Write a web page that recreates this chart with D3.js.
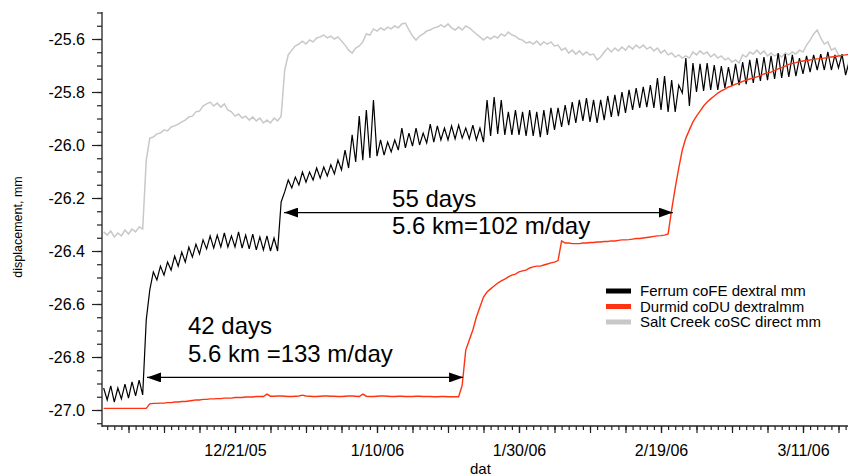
<!DOCTYPE html>
<html>
<head>
<meta charset="utf-8">
<script src="https://cdn.jsdelivr.net/npm/d3@7"></script>
<style>
  body { margin: 0; background: #fff; }
  text { font-family: "Liberation Sans", Arial, Helvetica, sans-serif; fill: #000; }
</style>
</head>
<body>
<div id="chart"></div>
<script>
// samples every 12 hours, starting at noon on 2 Dec 2005
const t0 = new Date(2005, 11, 2, 12);
const stepHours = 12;

const ferrum = [
  -26.917,-26.962,-26.909,-26.970,-26.917,-26.958,-26.902,-26.955,-26.894,-26.947,
  -26.887,-26.943,-26.660,-26.547,-26.479,-26.509,-26.457,-26.491,-26.442,-26.472,
  -26.419,-26.457,-26.404,-26.442,-26.385,-26.423,-26.374,-26.411,-26.358,-26.392,
  -26.343,-26.389,-26.340,-26.385,-26.332,-26.385,-26.343,-26.385,-26.328,-26.389,
  -26.340,-26.392,-26.336,-26.396,-26.347,-26.396,-26.343,-26.400,-26.351,-26.400,
  -26.215,-26.177,-26.132,-26.162,-26.121,-26.151,-26.102,-26.140,-26.102,-26.132,
  -26.087,-26.125,-26.083,-26.117,-26.075,-26.109,-26.057,-26.094,-26.019,-26.087,
  -25.962,-26.064,-25.891,-26.057,-25.868,-26.049,-25.830,-26.042,-25.981,-26.038,
  -25.989,-26.026,-25.981,-26.019,-25.936,-26.011,-25.955,-26.004,-25.936,-26.000,
  -25.955,-25.992,-25.921,-25.989,-25.928,-25.981,-25.936,-25.981,-25.928,-25.977,
  -25.925,-25.974,-25.936,-25.977,-25.925,-25.981,-25.936,-25.989,-25.830,-25.966,
  -25.819,-25.958,-25.830,-25.962,-25.875,-25.962,-25.868,-25.962,-25.875,-25.966,
  -25.868,-25.966,-25.875,-25.970,-25.868,-25.962,-25.860,-25.943,-25.860,-25.932,
  -25.849,-25.925,-25.838,-25.917,-25.830,-25.909,-25.823,-25.913,-25.830,-25.917,
  -25.830,-25.906,-25.815,-25.894,-25.811,-25.891,-25.800,-25.879,-25.792,-25.868,
  -25.785,-25.860,-25.781,-25.857,-25.774,-25.860,-25.747,-25.868,-25.740,-25.875,
  -25.755,-25.875,-25.774,-25.804,-25.672,-25.853,-25.691,-25.800,-25.694,-25.796,
  -25.691,-25.792,-25.698,-25.792,-25.702,-25.785,-25.706,-25.777,-25.694,-25.774,
  -25.687,-25.770,-25.679,-25.766,-25.672,-25.758,-25.668,-25.755,-25.664,-25.751,
  -25.653,-25.747,-25.657,-25.743,-25.660,-25.740,-25.672,-25.732,-25.664,-25.725,
  -25.660,-25.717,-25.657,-25.717,-25.649,-25.717,-25.660,-25.709,-25.657,-25.736,-25.687
];

const durmid = [
  -26.994,-26.994,-26.994,-26.994,-26.994,-26.994,-26.994,-26.994,-26.994,-26.994,
  -26.994,-26.994,-26.994,-26.977,-26.975,-26.975,-26.974,-26.974,-26.972,-26.972,
  -26.970,-26.970,-26.968,-26.968,-26.966,-26.964,-26.962,-26.962,-26.960,-26.960,
  -26.958,-26.958,-26.957,-26.957,-26.955,-26.955,-26.955,-26.953,-26.953,-26.953,
  -26.951,-26.951,-26.951,-26.949,-26.949,-26.949,-26.940,-26.948,-26.948,-26.947,
  -26.947,-26.948,-26.949,-26.949,-26.948,-26.947,-26.944,-26.947,-26.948,-26.949,
  -26.949,-26.948,-26.947,-26.947,-26.948,-26.948,-26.949,-26.949,-26.948,-26.947,
  -26.947,-26.948,-26.949,-26.940,-26.948,-26.949,-26.949,-26.948,-26.947,-26.947,
  -26.948,-26.949,-26.949,-26.948,-26.948,-26.949,-26.949,-26.949,-26.948,-26.948,
  -26.949,-26.949,-26.949,-26.950,-26.950,-26.949,-26.949,-26.950,-26.950,-26.950,
  -26.950,-26.906,-26.774,-26.736,-26.698,-26.649,-26.611,-26.574,-26.555,-26.543,
  -26.532,-26.521,-26.513,-26.506,-26.498,-26.491,-26.487,-26.479,-26.475,-26.472,
  -26.464,-26.460,-26.457,-26.457,-26.453,-26.449,-26.445,-26.442,-26.436,-26.362,
  -26.370,-26.370,-26.372,-26.372,-26.372,-26.370,-26.370,-26.368,-26.368,-26.366,
  -26.366,-26.364,-26.364,-26.362,-26.362,-26.360,-26.358,-26.358,-26.357,-26.355,
  -26.353,-26.353,-26.351,-26.349,-26.347,-26.345,-26.343,-26.342,-26.340,-26.336,
  -26.245,-26.162,-26.087,-26.019,-25.974,-25.943,-25.913,-25.891,-25.872,-25.853,
  -25.838,-25.826,-25.815,-25.804,-25.796,-25.789,-25.781,-25.777,-25.770,-25.766,
  -25.760,-25.755,-25.751,-25.747,-25.743,-25.738,-25.732,-25.728,-25.725,-25.719,
  -25.713,-25.708,-25.702,-25.696,-25.692,-25.689,-25.685,-25.683,-25.681,-25.679,
  -25.677,-25.675,-25.674,-25.672,-25.670,-25.668,-25.666,-25.664,-25.662,-25.660,-25.658
];

const saltCreek = [
  -26.328,-26.340,-26.325,-26.347,-26.332,-26.343,-26.321,-26.336,-26.317,-26.328,
  -26.309,-26.317,-26.057,-25.974,-25.970,-25.958,-25.955,-25.943,-25.947,-25.932,
  -25.928,-25.921,-25.913,-25.906,-25.894,-25.891,-25.875,-25.872,-25.853,-25.845,
  -25.838,-25.853,-25.842,-25.857,-25.845,-25.868,-25.875,-25.891,-25.883,-25.898,
  -25.891,-25.906,-25.894,-25.909,-25.898,-25.917,-25.906,-25.917,-25.898,-25.909,
  -25.891,-25.717,-25.660,-25.642,-25.626,-25.619,-25.608,-25.619,-25.604,-25.611,
  -25.596,-25.592,-25.585,-25.596,-25.589,-25.600,-25.592,-25.608,-25.623,-25.642,
  -25.653,-25.634,-25.626,-25.611,-25.581,-25.585,-25.562,-25.570,-25.558,-25.566,
  -25.555,-25.562,-25.551,-25.558,-25.543,-25.540,-25.566,-25.589,-25.604,-25.589,
  -25.581,-25.570,-25.566,-25.558,-25.555,-25.547,-25.555,-25.543,-25.558,-25.566,
  -25.555,-25.566,-25.551,-25.558,-25.570,-25.581,-25.592,-25.604,-25.592,-25.600,
  -25.589,-25.596,-25.581,-25.589,-25.574,-25.585,-25.589,-25.600,-25.604,-25.615,
  -25.611,-25.619,-25.608,-25.623,-25.611,-25.619,-25.611,-25.626,-25.623,-25.642,
  -25.634,-25.653,-25.642,-25.657,-25.645,-25.660,-25.649,-25.660,-25.657,-25.679,
  -25.668,-25.649,-25.634,-25.649,-25.634,-25.645,-25.630,-25.642,-25.626,-25.638,
  -25.623,-25.634,-25.623,-25.638,-25.630,-25.645,-25.634,-25.653,-25.642,-25.660,
  -25.653,-25.668,-25.660,-25.672,-25.664,-25.672,-25.649,-25.660,-25.645,-25.657,
  -25.649,-25.668,-25.657,-25.672,-25.664,-25.679,-25.672,-25.687,-25.679,-25.691,
  -25.660,-25.668,-25.649,-25.657,-25.642,-25.657,-25.645,-25.664,-25.653,-25.664,
  -25.657,-25.668,-25.653,-25.660,-25.649,-25.657,-25.642,-25.649,-25.623,-25.604,
  -25.581,-25.566,-25.596,-25.619,-25.611,-25.642,-25.634,-25.660,-25.672,-25.725,-25.679
];

const seriesNames = ["Ferrum coFE dextral mm", "Durmid coDU dextralmm", "Salt Creek coSC direct mm"];
const seriesColors = ["#000000", "#ff3311", "#c8c8c8"];
const yTicks = [-27.0, -26.8, -26.6, -26.4, -26.2, -26.0, -25.8, -25.6];
const xLabelDates = [new Date(2005, 11, 21), new Date(2006, 0, 10), new Date(2006, 0, 30),
                     new Date(2006, 1, 19), new Date(2006, 2, 11)];

// annotations: [start date, end date, value]
const arrows = [
  [new Date(2005, 11, 8, 14, 30), new Date(2006, 0, 22, 3), -26.877],
  [new Date(2005, 11, 27, 22), new Date(2006, 1, 20, 16), -26.255]
];
// [text, date of left edge, baseline value]
const notes = [
  ["42 days", new Date(2005, 11, 14, 9), -26.713],
  ["5.6 km =133 m/day", new Date(2005, 11, 14, 9), -26.817],
  ["55 days", new Date(2006, 0, 12, 3), -26.234],
  ["5.6 km=102 m/day", new Date(2006, 0, 12, 3), -26.334]
];

const W = 848, H = 476;
const svg = d3.select("#chart").append("svg").attr("width", W).attr("height", H);

const x = d3.scaleTime()
  .domain([new Date(2005, 11, 2, 6, 26), new Date(2006, 2, 17, 8, 7)])
  .range([102, 848]);
const y = d3.scaleLinear().domain([-27.0, -25.6]).range([410, 39]);
const tAt = i => d3.timeHour.offset(t0, stepHours * i);

// defs: clip + arrowheads
const defs = svg.append("defs");
defs.append("clipPath").attr("id", "plot").append("rect")
  .attr("x", 103).attr("y", 0).attr("width", W - 103).attr("height", 426);
defs.append("marker").attr("id", "head").attr("viewBox", "0 0 14 10")
  .attr("refX", 14).attr("refY", 5).attr("markerWidth", 14).attr("markerHeight", 10)
  .attr("markerUnits", "userSpaceOnUse").attr("orient", "auto-start-reverse")
  .append("path").attr("d", "M0,0 L14,5 L0,10 Z").attr("fill", "#000");

// axes
const yMinor = d3.range(0, 32).map(k => +(-27.05 + k * 0.05).toFixed(2));
svg.append("g").attr("transform", "translate(102,0)")
  .call(d3.axisLeft(y).tickValues(yMinor).tickSize(5).tickSizeOuter(0).tickFormat(""))
  .call(g => g.select(".domain").remove());
svg.append("g").attr("transform", "translate(102,0)")
  .call(d3.axisLeft(y).tickValues(yTicks).tickSize(10).tickSizeOuter(0).tickPadding(7)
    .tickFormat(d => d.toFixed(1)))
  .call(g => g.select(".domain").remove())
  .call(g => g.selectAll("text").attr("font-size", 16).attr("font-family", null));

const days = d3.timeDay.range(new Date(2005, 11, 3), new Date(2006, 2, 18));
const ref = new Date(2005, 11, 21);
const fives = days.filter(d => d3.timeDay.count(ref, d) % 5 === 0 || d3.timeDay.count(d, ref) % 5 === 0);
svg.append("g").attr("transform", "translate(0,426)")
  .call(d3.axisBottom(x).tickValues(days).tickSize(4).tickSizeOuter(0).tickFormat(""))
  .call(g => g.select(".domain").remove());
svg.append("g").attr("transform", "translate(0,426)")
  .call(d3.axisBottom(x).tickValues(fives).tickSize(7).tickSizeOuter(0).tickFormat(""))
  .call(g => g.select(".domain").remove());
svg.append("g").attr("transform", "translate(0,426)")
  .call(d3.axisBottom(x).tickValues(xLabelDates).tickSize(7).tickSizeOuter(0).tickPadding(12)
    .tickFormat(d3.timeFormat("%-m/%-d/%y")))
  .call(g => g.select(".domain").remove())
  .call(g => g.selectAll("text").attr("font-size", 16).attr("font-family", null));

svg.selectAll(".tick line").attr("stroke", "#222").attr("stroke-width", 1.2);
svg.append("line").attr("x1", 102).attr("x2", 102).attr("y1", 12).attr("y2", 427)
  .attr("stroke", "#222").attr("stroke-width", 1.3);
svg.append("line").attr("x1", 102).attr("x2", W).attr("y1", 426).attr("y2", 426)
  .attr("stroke", "#222").attr("stroke-width", 1.3);

svg.append("text").attr("transform", "translate(22,227) rotate(-90)")
  .attr("text-anchor", "middle").attr("font-size", 12.5).text("displacement, mm");
svg.append("text").attr("x", 470).attr("y", 474).attr("font-size", 15).text("dat");

// series
const line = d3.line().x((d, i) => x(tAt(i))).y(d => y(d));
const plot = svg.append("g").attr("clip-path", "url(#plot)");
plot.append("path").attr("d", line(saltCreek)).attr("fill", "none")
  .attr("stroke", seriesColors[2]).attr("stroke-width", 1.5);
plot.append("path").attr("d", line(ferrum)).attr("fill", "none")
  .attr("stroke", seriesColors[0]).attr("stroke-width", 1.2);
plot.append("path").attr("d", line(durmid)).attr("fill", "none")
  .attr("stroke", seriesColors[1]).attr("stroke-width", 1.4);

// annotations
svg.selectAll(".arrow").data(arrows).enter().append("line").attr("class", "arrow")
  .attr("x1", d => x(d[0])).attr("x2", d => x(d[1]))
  .attr("y1", d => y(d[2])).attr("y2", d => y(d[2]))
  .attr("stroke", "#000").attr("stroke-width", 1.3)
  .attr("marker-start", "url(#head)").attr("marker-end", "url(#head)");
svg.selectAll(".note").data(notes).enter().append("text").attr("class", "note")
  .attr("x", d => x(d[1])).attr("y", d => y(d[2]))
  .attr("font-size", 24).text(d => d[0]);

// legend
const leg = svg.append("g").attr("transform", "translate(606,291)");
seriesNames.forEach((name, k) => {
  leg.append("rect").attr("x", 0).attr("y", k * 15.5 - 2.5).attr("width", 25).attr("height", 5)
    .attr("fill", seriesColors[k]);
  leg.append("text").attr("x", 34).attr("y", k * 15.5 + 5.3).attr("font-size", 15).text(name);
});
</script>
</body>
</html>
